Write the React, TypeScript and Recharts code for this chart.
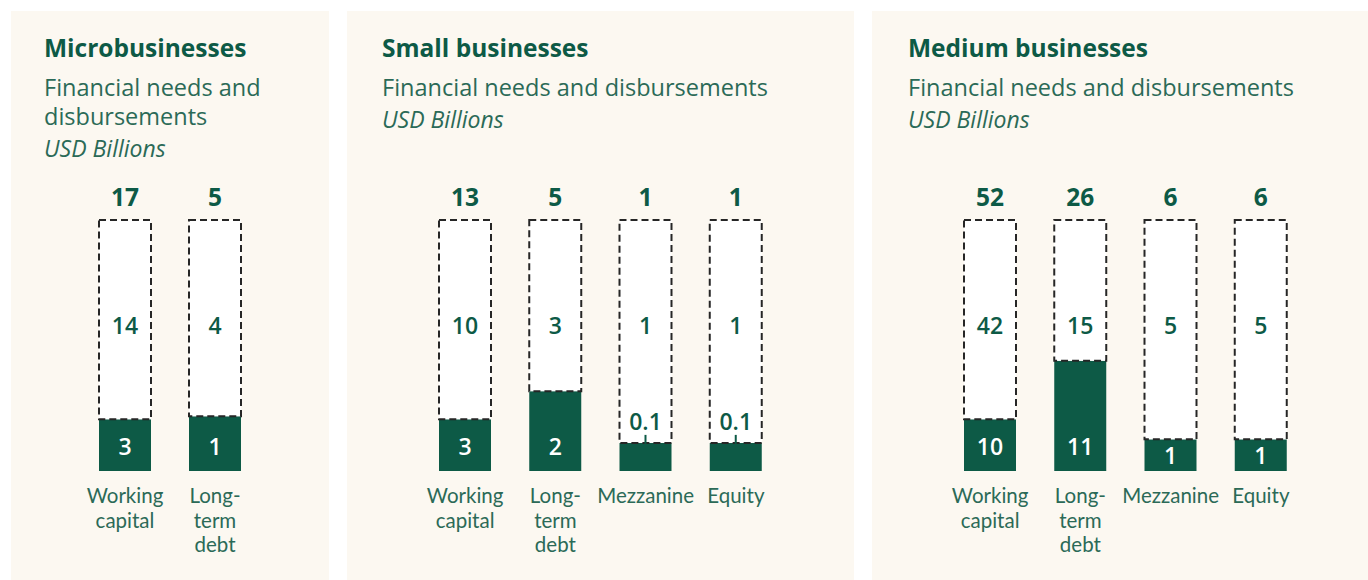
import React from "react";
import { BarChart, Bar, XAxis, YAxis } from "recharts";

const GREEN = "#0d5a46";
const TEXT = "#2b6a57";
const BG = "#fcf8f1";
const FONT = "'Open Sans', Lato, sans-serif";
const TICK_FONT = "Lato, 'Open Sans', sans-serif";

// ---- Microbusinesses ----
const microCategories = ["Working capital", "Long-term debt"];
const microTickLabels = [["Working", "capital"], ["Long-", "term", "debt"]];
const microTotals = [17, 5];
const microGaps = [14, 4];
const microDisbursed = [3, 1];
const microDisbursedShare = [20.6, 21.8];

// ---- Small businesses ----
const smallCategories = ["Working capital", "Long-term debt", "Mezzanine", "Equity"];
const smallTickLabels = [["Working", "capital"], ["Long-", "term", "debt"], ["Mezzanine"], ["Equity"]];
const smallTotals = [13, 5, 1, 1];
const smallGaps = [10, 3, 1, 1];
const smallDisbursed = [3, 2, 0.1, 0.1];
const smallDisbursedShare = [20.6, 31.8, 11.2, 11.2];

// ---- Medium businesses ----
const mediumCategories = ["Working capital", "Long-term debt", "Mezzanine", "Equity"];
const mediumTickLabels = [["Working", "capital"], ["Long-", "term", "debt"], ["Mezzanine"], ["Equity"]];
const mediumTotals = [52, 26, 6, 6];
const mediumGaps = [42, 15, 5, 5];
const mediumDisbursed = [10, 11, 1, 1];
const mediumDisbursedShare = [20.6, 43.9, 12.6, 12.6];

function buildRows(cats: string[], ticks: string[][], totals: number[], gaps: number[], disb: number[], share: number[]) {
  return cats.map((c, i) => ({
    category: c,
    lines: ticks[i],
    total: totals[i],
    gap: gaps[i],
    disbursed: disb[i],
    filledShare: share[i],
    gapShare: 100 - share[i],
  }));
}

const microData = buildRows(microCategories, microTickLabels, microTotals, microGaps, microDisbursed, microDisbursedShare);
const smallData = buildRows(smallCategories, smallTickLabels, smallTotals, smallGaps, smallDisbursed, smallDisbursedShare);
const mediumData = buildRows(mediumCategories, mediumTickLabels, mediumTotals, mediumGaps, mediumDisbursed, mediumDisbursedShare);

const GapShape = (props: any) => {
  const { x, y, width, height, payload } = props;
  const cx = x + width / 2;
  const full = (height * 100) / payload.gapShare;
  const bottom = y + full;
  const fillTop = y + height;
  const small = payload.disbursed < 1;
  const insideY = Math.max(fillTop + (bottom - fillTop) / 2, bottom - 25);
  return (
    <g>
      <rect x={x} y={y} width={width} height={height} fill="#ffffff" stroke="#262626" strokeWidth={2} strokeDasharray="7 4" />
      <text x={cx} y={y - 24} textAnchor="middle" dominantBaseline="central" fontFamily={FONT} fontWeight={700} fontSize={24.5} fill={GREEN}>
        {payload.total}
      </text>
      <text x={cx} y={y + 105} textAnchor="middle" dominantBaseline="central" fontFamily={FONT} fontWeight={600} fontSize={23} fill={GREEN}>
        {payload.gap}
      </text>
      {small ? (
        <g>
          <text x={cx} y={fillTop - 22} textAnchor="middle" dominantBaseline="central" fontFamily={FONT} fontWeight={600} fontSize={23} fill={GREEN}>
            {payload.disbursed}
          </text>
          <line x1={cx} x2={cx} y1={fillTop - 8} y2={fillTop + 1} stroke={GREEN} strokeWidth={2} />
        </g>
      ) : (
        <text x={cx} y={insideY} textAnchor="middle" dominantBaseline="central" fontFamily={FONT} fontWeight={600} fontSize={23} fill="#ffffff">
          {payload.disbursed}
        </text>
      )}
    </g>
  );
};

const makeTick = (data: any[]) => (props: any) => {
  const { x, y, index } = props;
  const lines: string[] = data[index] ? data[index].lines : [];
  return (
    <text x={x} y={y + 24} textAnchor="middle" dominantBaseline="central" fontFamily={TICK_FONT} fontSize={20.5} fill={TEXT}>
      {lines.map((l, i) => (
        <tspan key={i} x={x} dy={i === 0 ? 0 : 24.7}>
          {l}
        </tspan>
      ))}
    </text>
  );
};

type PanelProps = {
  left: number;
  width: number;
  textLeft: number;
  title: string;
  subtitleLines: string[];
  unit: string;
  data: any[];
  mLeft: number;
  mRight: number;
};

function Panel({ left, width, textLeft, title, subtitleLines, unit, data, mLeft, mRight }: PanelProps) {
  const unitCenter = 76 + subtitleLines.length * 29 + 3;
  return (
    <div style={{ position: "absolute", left, top: 11, width, height: 569, background: BG }}>
      <div style={{ position: "absolute", left: textLeft, top: 23, height: 28, lineHeight: "28px", fontFamily: FONT, fontWeight: 700, fontSize: 24.5, color: GREEN, whiteSpace: "nowrap" }}>
        {title}
      </div>
      {subtitleLines.map((s, i) => (
        <div key={i} style={{ position: "absolute", left: textLeft, top: 76 + i * 29 - 14, height: 28, lineHeight: "28px", fontFamily: FONT, fontSize: 23.5, color: TEXT, whiteSpace: "nowrap" }}>
          {s}
        </div>
      ))}
      <div style={{ position: "absolute", left: textLeft, top: unitCenter - 14, height: 28, lineHeight: "28px", fontFamily: FONT, fontStyle: "italic", fontSize: 23, color: TEXT, whiteSpace: "nowrap" }}>
        {unit}
      </div>
      <div style={{ position: "absolute", left: 0, top: 0 }}>
        <BarChart width={width} height={569} data={data} margin={{ top: 209, right: mRight, bottom: 10, left: mLeft }} barSize={52}>
          <XAxis dataKey="category" height={99} axisLine={false} tickLine={false} tickSize={0} tickMargin={0} interval={0} tick={makeTick(data)} />
          <YAxis hide width={0} domain={[0, 100]} />
          <Bar dataKey="filledShare" stackId="a" fill={GREEN} isAnimationActive={false} />
          <Bar dataKey="gapShare" stackId="a" shape={GapShape} isAnimationActive={false} />
        </BarChart>
      </div>
    </div>
  );
}

export default function App() {
  return (
    <div style={{ position: "absolute", left: 0, top: 0, width: 1368, height: 580, background: "#ffffff", overflow: "hidden" }}>
      <Panel
        left={11}
        width={318}
        textLeft={33}
        title="Microbusinesses"
        subtitleLines={["Financial needs and", "disbursements"]}
        unit="USD Billions"
        data={microData}
        mLeft={69}
        mRight={69}
      />
      <Panel
        left={347}
        width={507}
        textLeft={35}
        title="Small businesses"
        subtitleLines={["Financial needs and disbursements"]}
        unit="USD Billions"
        data={smallData}
        mLeft={73}
        mRight={73}
      />
      <Panel
        left={872}
        width={496}
        textLeft={36}
        title="Medium businesses"
        subtitleLines={["Financial needs and disbursements"]}
        unit="USD Billions"
        data={mediumData}
        mLeft={73}
        mRight={62}
      />
    </div>
  );
}
